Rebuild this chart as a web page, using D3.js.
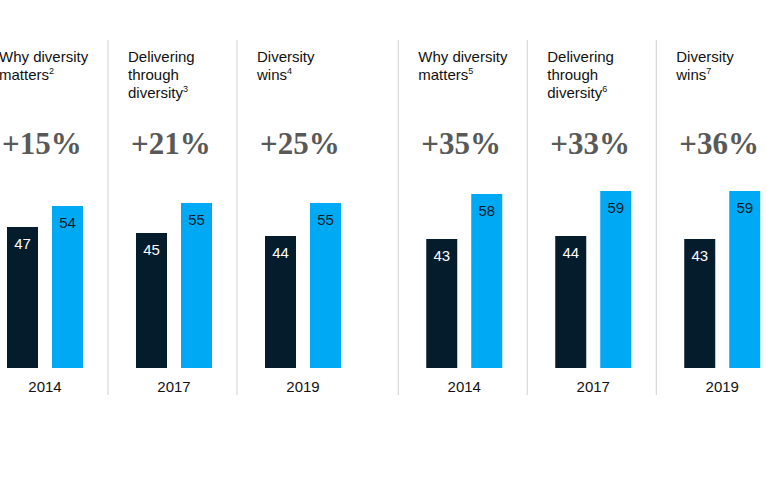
<!DOCTYPE html><html><head><meta charset="utf-8"><script src="https://cdn.jsdelivr.net/npm/d3@7"></script>
<style>body{margin:0;background:#fff}</style></head><body><svg id="c" width="767" height="480"></svg>
<script>
const titles=[["Why diversity","matters","2"],["Delivering","through","diversity","3"],["Diversity","wins","4"],["Why diversity","matters","5"],["Delivering","through","diversity","6"],["Diversity","wins","7"]];
const uplift=["+15%","+21%","+25%","+35%","+33%","+36%"];
const years=["2014","2017","2019","2014","2017","2019"];
const bottomQ=[47,45,44,43,44,43];
const topQ=[54,55,55,58,59,59];
const svg=d3.select("#c");
const slot=i=>i+(i>=3?0.25:0);
const x=d3.scaleLinear().domain([0,1]).range([7,136]);
const y=d3.scaleLinear().domain([0,59]).range([368,191]);
const bw=31,gap=14,font="'Liberation Sans',Arial,sans-serif";
years.forEach((yr,i)=>{
  const x0=x(slot(i));
  if(i>0) svg.append("line").attr("x1",x0-28).attr("x2",x0-28).attr("y1",40).attr("y2",395).attr("stroke","#d0d0d0");
  const t=svg.append("text").attr("x",x0-8).attr("y",62).attr("font-family",font).attr("font-size",15).attr("fill","#111");
  const lines=titles[i].slice(0,-1);
  lines.forEach((l,j)=>{t.append("tspan").attr("x",x0-8).attr("dy",j?18:0).text(l);
    if(j==lines.length-1) t.append("tspan").attr("font-size",9).attr("dy",-6).text(titles[i][titles[i].length-1]);});
  svg.append("text").attr("x",x0-5).attr("y",154).attr("font-family","'Liberation Serif','DejaVu Serif',serif").attr("font-size",31).attr("font-weight","bold").attr("fill","#595959").text(uplift[i]);
  [[bottomQ[i],"#051c2c","#fff",x0],[topQ[i],"#00a9f4","#051c2c",x0+bw+gap]].forEach(([v,c,tc,bx])=>{
    svg.append("rect").attr("x",bx).attr("y",y(v)).attr("width",bw).attr("height",y(0)-y(v)).attr("fill",c);
    svg.append("text").attr("x",bx+bw/2).attr("y",y(v)+22).attr("text-anchor","middle").attr("font-family",font).attr("font-size",15).attr("fill",tc).text(v);
  });
  svg.append("text").attr("x",x0+bw+gap/2).attr("y",392).attr("text-anchor","middle").attr("font-family",font).attr("font-size",15).attr("fill","#111").text(yr);
});
</script></body></html>
